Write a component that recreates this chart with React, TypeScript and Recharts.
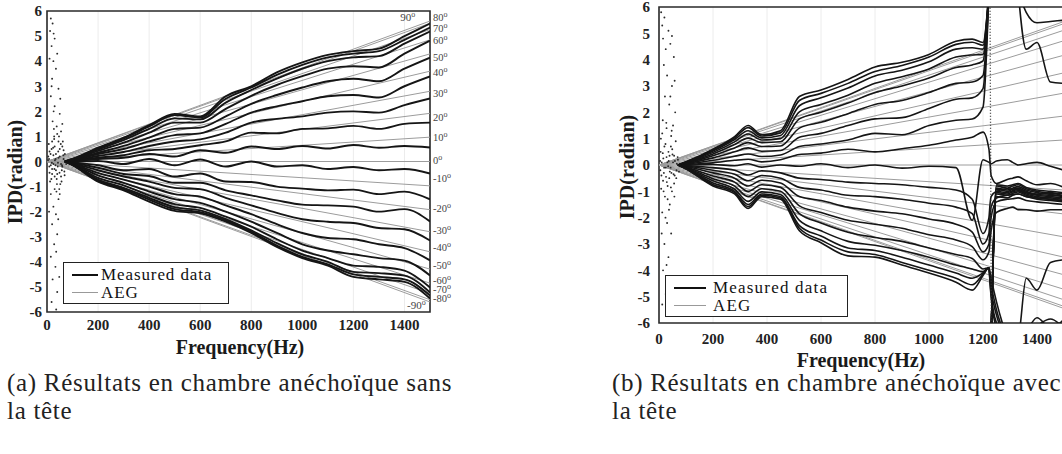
import React from 'react';
import {
  ComposedChart,
  Line,
  Scatter,
  XAxis,
  YAxis,
  ReferenceArea,
  ReferenceDot,
  CartesianGrid,
} from 'recharts';

const SERIF = '"Liberation Serif", "Times New Roman", serif';

const ANGLES = [90, 80, 70, 60, 50, 40, 30, 20, 10, 0, -10, -20, -30, -40, -50, -60, -70, -80, -90];
const X_TICKS = [0, 200, 400, 600, 800, 1000, 1200, 1400];
const Y_TICKS = [-6, -5, -4, -3, -2, -1, 0, 1, 2, 3, 4, 5, 6];

// (a) anechoic room, no head
const FREQ_A = [70, 100, 200, 300, 400, 500, 600, 700, 800, 900, 1000, 1100, 1200, 1300, 1400, 1500];
const MEASURED_A = [
  [0, 0.1, 0.55, 0.95, 1.45, 1.9, 1.8, 2.6, 3.0, 3.55, 3.95, 4.25, 4.4, 4.5, 5.0, 5.5],
  [0, 0.1, 0.52, 0.92, 1.4, 1.85, 1.76, 2.5, 2.95, 3.45, 3.85, 4.15, 4.3, 4.4, 4.85, 5.34],
  [0, 0.08, 0.48, 0.85, 1.3, 1.72, 1.68, 2.35, 2.85, 3.3, 3.7, 4.0, 4.15, 4.2, 4.7, 5.18],
  [0, 0.07, 0.42, 0.75, 1.15, 1.55, 1.55, 2.1, 2.62, 3.05, 3.4, 3.7, 3.8, 3.75, 4.3, 4.82],
  [0, 0.05, 0.35, 0.62, 0.95, 1.3, 1.35, 1.8, 2.3, 2.65, 2.95, 3.2, 3.3, 3.2, 3.7, 4.14],
  [0, 0.04, 0.3, 0.5, 0.8, 1.05, 1.12, 1.5, 1.95, 2.2, 2.4, 2.6, 2.65, 2.55, 3.0, 3.39],
  [0, 0.03, 0.22, 0.38, 0.62, 0.8, 0.88, 1.15, 1.55, 1.7, 1.8, 1.95, 2.0, 1.95, 2.25, 2.51],
  [0, 0.02, 0.15, 0.25, 0.45, 0.5, 0.65, 0.8, 1.15, 1.12, 1.3, 1.32, 1.42, 1.3, 1.5, 1.55],
  [0, 0.01, 0.1, 0.15, 0.3, 0.2, 0.45, 0.35, 0.6, 0.5, 0.62, 0.52, 0.66, 0.55, 0.62, 0.56],
  [0, 0, 0.02, -0.1, 0.1, -0.15, 0.08, -0.2, 0.0, -0.2, -0.15, -0.3, -0.22, -0.35, -0.3, -0.48],
  [0, -0.03, -0.15, -0.35, -0.3, -0.6, -0.48, -0.8, -0.82, -1.0, -1.08, -1.15, -1.12, -1.3, -1.2, -1.51],
  [0, -0.05, -0.25, -0.5, -0.58, -0.85, -0.85, -1.15, -1.35, -1.55, -1.72, -1.75, -1.8, -2.0, -1.9, -2.39],
  [0, -0.07, -0.35, -0.6, -0.8, -1.05, -1.1, -1.45, -1.75, -2.05, -2.3, -2.4, -2.45, -2.65, -2.7, -3.15],
  [0, -0.09, -0.45, -0.72, -1.0, -1.3, -1.4, -1.75, -2.1, -2.5, -2.85, -3.05, -3.1, -3.3, -3.45, -3.94],
  [0, -0.1, -0.55, -0.85, -1.2, -1.5, -1.65, -2.0, -2.4, -2.85, -3.3, -3.55, -3.7, -3.85, -3.95, -4.54],
  [0, -0.12, -0.65, -0.95, -1.35, -1.7, -1.85, -2.2, -2.6, -3.1, -3.55, -3.85, -4.15, -4.2, -4.35, -5.02],
  [0, -0.13, -0.72, -1.05, -1.45, -1.82, -1.95, -2.3, -2.75, -3.25, -3.7, -4.0, -4.4, -4.45, -4.55, -5.22],
  [0, -0.14, -0.77, -1.1, -1.52, -1.9, -2.02, -2.35, -2.8, -3.35, -3.8, -4.1, -4.5, -4.6, -4.7, -5.34],
  [0, -0.15, -0.8, -1.15, -1.6, -1.97, -2.07, -2.4, -2.85, -3.4, -3.85, -4.15, -4.6, -4.7, -4.8, -5.46],
];
// AEG model value at 1500 Hz, one per angle
const AEG_A = [5.6, 5.51, 5.26, 4.85, 4.29, 3.6, 2.8, 1.92, 0.97, 0, -0.97, -1.92, -2.8, -3.6, -4.29, -4.85, -5.26, -5.51, -5.6];
const NOISE_A = [
  [15, 5.7], [22, 5.5], [12, 5.2], [30, 4.9], [18, 4.6], [40, 4.3], [25, 4.0], [35, 3.7], [20, 3.3],
  [45, 2.9], [15, 2.6], [30, 2.2], [50, 1.9], [22, 1.6], [38, 1.4], [55, 1.2], [28, 1.0], [45, 0.8],
  [60, 0.6], [18, 0.5], [35, 0.3], [50, 0.2], [65, 0.1], [25, -0.1], [42, -0.2], [58, -0.35], [20, -0.5],
  [38, -0.7], [52, -0.9], [30, -1.1], [15, -1.3], [45, -1.5], [25, -1.8], [35, -2.1], [20, -2.5],
  [40, -2.9], [28, -3.3], [15, -3.8], [33, -4.2], [22, -4.7], [40, -5.2], [18, -5.6], [10, 0.4],
  [20, -0.3], [30, 0.6], [40, -0.5], [50, 0.5], [60, -0.2], [70, 0.3], [12, -0.8], [28, 0.9],
  [48, -1.1], [62, 0.8], [8, 0.1], [55, -0.6], [33, -0.15], [68, -0.4], [5, 0.2], [15, -0.15],
  [25, 0.25], [35, -0.35], [45, 0.15], [55, -0.1], [65, 0.45], [75, -0.1], [10, -0.45], [20, 0.8],
  [30, -0.6], [40, 1.1], [50, -1.3], [60, 1.5], [8, -2.0], [26, 2.0], [44, -2.3], [52, 2.5],
  [18, 3.0], [36, -3.6], [10, 4.1], [48, -4.6], [26, 5.1], [36, -5.9], [4, 0.05], [9, -0.2],
  [14, 0.3], [19, -0.05], [24, 0.55], [29, -0.3], [34, 0.1], [39, -0.9], [44, 0.4], [49, -0.45],
  [54, 0.7], [59, -0.15], [64, 0.25], [69, -0.55], [7, 0.7], [17, -0.7], [27, 1.3], [37, -1.2],
  [47, 1.0], [57, -0.8], [31, 0.05], [43, -0.05],
];
const LABEL_AT_A = [5.74, 5.3, 4.82, 4.14, 3.55, 2.71, 1.75, 0.96, 0.04, -0.68, -1.87, -2.75, -3.43, -4.14, -4.74, -5.12, -5.48];
const LABEL_TEXT_A = ['80', '70', '60', '50', '40', '30', '20', '10', '0', '-10', '-20', '-30', '-40', '-50', '-60', '-70', '-80'];

// (b) anechoic room, with head
const FREQ_B = [70, 100, 200, 280, 330, 380, 450, 520, 600, 700, 800, 900, 1000, 1100, 1160, 1200, 1222, 1226, 1230, 1250, 1290, 1310, 1330, 1360, 1400, 1450, 1500];
const MEASURED_B = [
  [0, 0.12, 0.6, 1.08, 1.5, 1.15, 1.3, 2.6, 2.85, 3.25, 3.72, 3.9, 4.2, 4.7, 4.78, 4.65, 6.6, null, -6.6, -0.75, -0.8, -0.75, -0.7, -0.85, -0.95, -1.0, -1.05],
  [0, 0.11, 0.57, 1.03, 1.42, 1.1, 1.22, 2.45, 2.72, 3.1, 3.55, 3.78, 4.1, 4.58, 4.66, 4.55, 6.6, null, -6.6, -0.8, -0.88, -0.8, -0.75, -0.9, -1.0, -1.08, -1.1],
  [0, 0.1, 0.53, 0.97, 1.3, 1.03, 1.12, 2.25, 2.55, 2.92, 3.38, 3.6, 3.92, 4.4, 4.45, 4.4, 6.6, null, -6.6, -0.88, -0.95, -0.88, -0.82, -0.95, -1.05, -1.12, -1.18],
  [0, 0.09, 0.48, 0.88, 1.18, 0.95, 1.0, 2.02, 2.3, 2.65, 3.1, 3.35, 3.65, 4.1, 4.18, 4.2, 6.6, null, -6.6, -0.92, -1.0, -0.92, -0.88, -1.0, -1.12, -1.15, -1.2],
  [0, 0.08, 0.42, 0.78, 1.02, 0.85, 0.88, 1.75, 2.0, 2.35, 2.75, 3.0, 3.3, 3.7, 3.8, 3.95, 6.6, null, -6.6, -1.0, -1.05, -0.98, -0.92, -1.05, -1.15, -1.2, -1.25],
  [0, 0.07, 0.35, 0.65, 0.85, 0.7, 0.72, 1.4, 1.62, 1.95, 2.3, 2.45, 2.75, 3.1, 3.15, 3.4, 6.6, null, -6.6, -1.05, -1.1, -1.02, -0.98, -1.1, -1.2, -1.25, -1.3],
  [0, 0.05, 0.27, 0.5, 0.65, 0.52, 0.55, 1.05, 1.2, 1.5, 1.75, 1.8, 2.15, 2.5, 2.55, 2.9, 6.6, null, -6.6, -1.1, -1.15, -1.08, -1.02, -1.15, -1.25, -1.3, -1.35],
  [0, 0.03, 0.18, 0.33, 0.42, 0.32, 0.38, 0.7, 0.8, 0.95, 1.2, 1.15, 1.5, 1.7, 1.75, 2.2, 6.6, null, -6.6, -1.2, -1.25, -1.15, -1.1, -1.2, -1.3, -1.35, -1.4],
  [0, 0.02, 0.08, 0.18, 0.22, 0.12, 0.2, 0.4, 0.45, 0.6, 0.5, 0.62, 0.75, 0.95, 1.05, 1.25, 0.6, 0.1, -0.4, -0.7, -0.55, -0.5, -0.45, -0.6, -0.75, -0.7, -0.85],
  [0, 0, 0.02, -0.03, 0.05, -0.08, 0, -0.05, 0.05, -0.1, 0, -0.12, -0.05, -0.1, -2.1, 0.2, 0.1, 0.08, 0.05, 0.15, 0.2, 0.1, 0, 0.05, 0.1, -0.05, -0.2],
  [0, -0.02, -0.1, -0.2, -0.38, -0.22, -0.3, -0.5, -0.55, -0.65, -0.7, -0.75, -0.85, -0.95, -1.3, -2.6, -2.0, -1.5, -1.2, -1.0, -0.9, -0.92, -0.95, -1.05, -1.1, -1.05, -1.2],
  [0, -0.04, -0.2, -0.35, -0.6, -0.4, -0.5, -0.85, -0.95, -1.15, -1.2, -1.3, -1.45, -1.6, -1.85, -3.0, -2.6, -2.0, -1.6, -1.25, -1.15, -1.12, -1.1, -1.2, -1.25, -1.3, -1.35],
  [0, -0.06, -0.3, -0.5, -0.8, -0.58, -0.68, -1.2, -1.35, -1.6, -1.75, -1.85, -2.05, -2.25, -2.55, -3.3, -3.0, -2.5, -2.0, -1.4, -1.3, -1.28, -1.25, -1.35, -1.4, -1.45, -1.5],
  [0, -0.08, -0.42, -0.65, -1.0, -0.75, -0.85, -1.55, -1.8, -2.1, -2.25, -2.4, -2.65, -2.85, -3.1, -3.6, -3.3, -2.9, -2.5, -1.8, -1.65, -1.6, -1.7, -1.7, -1.75, -1.7, -1.7],
  [0, -0.1, -0.52, -0.8, -1.2, -0.9, -1.0, -1.85, -2.2, -2.55, -2.75, -2.9, -3.15, -3.4, -3.55, -3.95, -3.9, -4.1, -4.3, -5.2, -6.6, null, 6.6, 5.8, 5.4, 5.45, 5.5],
  [0, -0.12, -0.6, -0.92, -1.38, -1.02, -1.12, -2.1, -2.5, -2.9, -3.05, -3.25, -3.5, -3.8, -3.95, -4.05, -3.9, -4.2, -4.5, -5.5, -6.6, null, 6.6, 4.4, 4.65, 3.15, 3.1],
  [0, -0.13, -0.68, -1.0, -1.5, -1.1, -1.2, -2.3, -2.7, -3.15, -3.25, -3.5, -3.8, -4.1, -4.3, -4.1, -3.9, -4.3, -4.7, -5.7, -6.6, -6.8, -6.6, -4.3, -4.75, -3.7, -3.6],
  [0, -0.14, -0.75, -1.05, -1.58, -1.15, -1.25, -2.4, -2.85, -3.3, -3.4, -3.7, -4.0, -4.3, -4.55, -4.15, -3.9, -4.4, -4.9, -6.0, -6.6, -6.7, -6.5, -6.3, -5.8, -6.2, -5.85],
  [0, -0.15, -0.8, -1.1, -1.65, -1.2, -1.3, -2.5, -2.95, -3.45, -3.5, -3.8, -4.1, -4.45, -4.75, -4.2, -3.9, -4.5, -5.0, -6.2, -6.8, -6.8, -6.6, -6.4, -6.1, -5.85, -6.2],
];
const AEG_B = [5.45, 5.37, 5.12, 4.72, 4.17, 3.5, 2.73, 1.86, 0.95, 0, -0.95, -1.86, -2.73, -3.5, -4.17, -4.72, -5.12, -5.37, -5.45];
const NOISE_B = [
  [8, 5.8], [20, 5.6], [12, 5.3], [35, 5.1], [15, 4.8], [42, 4.6], [25, 4.4], [55, 4.1], [18, 3.8],
  [30, 3.4], [48, 3.0], [22, 2.6], [38, 2.3], [60, 2.0], [14, 1.7], [28, 1.4], [45, 1.1], [62, 0.9],
  [20, 0.7], [35, 0.5], [50, 0.4], [70, 0.2], [10, 0.1], [25, -0.1], [40, -0.25], [58, -0.4], [15, -0.6],
  [32, -0.8], [48, -1.0], [22, -1.2], [40, -1.5], [12, -1.8], [30, -2.2], [45, -2.6], [20, -3.0],
  [35, -3.5], [15, -4.0], [40, -4.4], [25, -4.9], [12, -5.3], [30, -5.7], [6, 0.5], [18, -0.3],
  [28, 0.3], [38, -0.5], [52, 0.1], [65, -0.2], [44, 0.7], [8, -0.9], [56, -0.7], [5, -0.2],
  [16, 0.25], [26, -0.45], [36, 0.15], [46, -0.3], [56, 0.35], [66, 0.05], [74, -0.25], [12, 1.2],
  [32, -1.3], [52, 1.5], [24, -2.0], [42, 2.6], [10, -2.6], [58, 3.2], [28, -3.8], [48, 4.9], [36, -5.2],
  [4, 0.15], [9, -0.4], [14, 0.45], [19, -0.1], [24, 0.8], [29, -0.65], [34, -0.05], [39, 0.35],
  [44, -0.85], [49, 0.6], [54, -0.35], [59, 0.15], [64, -0.5], [69, 0.3], [7, 1.0], [17, -1.0],
  [27, 1.6], [37, -1.7], [47, 1.3], [57, -1.2], [31, 0.1], [43, -0.1],
];
// phase-wrap jump, drawn dotted
const WRAP_B = [[1226, 6.2], [1231, -6.2]];

const toRows = (freq: number[], vals: (number | null)[]) => freq.map((f, i) => ({ f, v: vals[i] }));
const aegRows = (end: number) => [{ f: 0, v: 0 }, { f: 1500, v: end }];
const pairRows = (pts: number[][]) => pts.map(([f, v]) => ({ f, v }));

const tickStyle = { fontFamily: SERIF, fontWeight: 700, fontSize: 15, fill: '#222' };

const NoiseDot = (p: any) => <circle cx={p.cx} cy={p.cy} r={0.95} fill="#2a2a2a" />;

function AngleTick(props: any) {
  const { x, y, payload } = props;
  const i = LABEL_AT_A.indexOf(payload.value);
  return (
    <text x={x} y={y} dy={3.5} fontFamily={SERIF} fontSize={10.5} fill="#444" stroke="none">
      {LABEL_TEXT_A[i]}
      <tspan dy={-4} fontSize={8}>o</tspan>
    </text>
  );
}

function cornerLabel(text: string) {
  return (p: any) => (
    <text x={p.cx} y={p.cy} dy={3.5} fontFamily={SERIF} fontSize={11} fill="#444" stroke="none">
      {text}
      <tspan dy={-4} fontSize={8}>o</tspan>
    </text>
  );
}

function seriesFor(key: string, freq: number[], measured: (number | null)[][], aeg: number[], width: number) {
  const gray = aeg.map((end, i) => (
    <Line
      key={`${key}-aeg-${ANGLES[i]}`}
      data={aegRows(end)}
      dataKey="v"
      type="linear"
      stroke="#9c9c9c"
      strokeWidth={1}
      dot={false}
      activeDot={false}
      isAnimationActive={false}
    />
  ));
  const black = measured.map((row, i) => (
    <Line
      key={`${key}-m-${ANGLES[i]}`}
      data={toRows(freq, row)}
      dataKey="v"
      type="monotone"
      stroke="#151515"
      strokeWidth={width}
      dot={false}
      activeDot={false}
      connectNulls={false}
      isAnimationActive={false}
    />
  ));
  return [...gray, ...black];
}

function Legend({ left, top, width, height, pitch, sample, textLeft, fontSize, spacing }: any) {
  const row = (label: string, color: string, thick: number, y: number) => (
    <div style={{ position: 'absolute', left: 0, top: y, width: '100%', height: pitch }}>
      <div style={{ position: 'absolute', left: 8, width: sample, top: pitch / 2 - thick / 2, borderTop: `${thick}px solid ${color}` }} />
      <div style={{ position: 'absolute', left: textLeft, top: 0, lineHeight: `${pitch}px`, fontSize, letterSpacing: spacing, fontFamily: SERIF, color: '#111', whiteSpace: 'nowrap' }}>
        {label}
      </div>
    </div>
  );
  return (
    <div style={{ position: 'absolute', left, top, width, height, border: '1.6px solid #222', background: '#fff', boxSizing: 'border-box' }}>
      {row('Measured data', '#111', 2.5, 3)}
      {row('AEG', '#999', 1.2, 3 + pitch)}
    </div>
  );
}

const titleStyle: React.CSSProperties = {
  position: 'absolute',
  fontFamily: SERIF,
  fontWeight: 700,
  fontSize: 20,
  color: '#1a1a1a',
  whiteSpace: 'nowrap',
  transform: 'translate(-50%, -50%)',
};

const captionStyle: React.CSSProperties = {
  position: 'absolute',
  top: 369,
  fontFamily: SERIF,
  fontSize: 25,
  letterSpacing: 0.7,
  lineHeight: '28px',
  color: '#222',
  whiteSpace: 'nowrap',
};

export default function App() {
  return (
    <div style={{ position: 'absolute', left: 0, top: 0, width: 1062, height: 454, overflow: 'hidden', background: '#fff' }}>
      {/* panel (a) */}
      <div style={{ position: 'absolute', left: 0, top: 0 }}>
        <ComposedChart width={480} height={360} margin={{ top: 11, right: 15, bottom: 3, left: 7 }}>
          <CartesianGrid horizontal={false} stroke="#ececec" />
          <XAxis
            dataKey="f"
            type="number"
            domain={[0, 1500]}
            ticks={X_TICKS}
            interval={0}
            allowDataOverflow
            axisLine={false}
            tickLine={false}
            tickSize={4}
            tickMargin={3}
            height={45}
            tick={tickStyle}
          />
          <YAxis
            dataKey="v"
            type="number"
            domain={[-6, 6]}
            ticks={Y_TICKS}
            interval={0}
            allowDataOverflow
            axisLine={false}
            tickLine={false}
            tickSize={3}
            tickMargin={2}
            width={40}
            tick={tickStyle}
          />
          <YAxis
            yAxisId="ang"
            orientation="right"
            type="number"
            domain={[-6, 6]}
            ticks={LABEL_AT_A}
            interval={0}
            allowDataOverflow
            axisLine={false}
            tickLine={false}
            tickSize={0}
            tickMargin={3}
            width={35}
            tick={<AngleTick />}
          />
          <Scatter data={pairRows(NOISE_A)} shape={NoiseDot} isAnimationActive={false} />
          {seriesFor('a', FREQ_A, MEASURED_A, AEG_A, 1.9)}
          <ReferenceDot x={1383} y={5.74} r={0} shape={cornerLabel('90')} ifOverflow="visible" />
          <ReferenceDot x={1410} y={-5.74} r={0} shape={cornerLabel('-90')} ifOverflow="visible" />
          <ReferenceArea x1={0} x2={1500} y1={-6} y2={6} fill="none" stroke="#2a2a2a" strokeWidth={1.6} ifOverflow="visible" />
        </ComposedChart>
      </div>

      {/* panel (b) */}
      <div style={{ position: 'absolute', left: 600, top: 0 }}>
        <ComposedChart width={470} height={380} margin={{ top: 7, right: 6, bottom: 12, left: 14 }}>
          <CartesianGrid horizontal={false} stroke="#ececec" />
          <XAxis
            dataKey="f"
            type="number"
            domain={[0, 1500]}
            ticks={X_TICKS}
            interval={0}
            allowDataOverflow
            axisLine={false}
            tickLine={false}
            tickSize={4}
            tickMargin={6}
            height={45}
            tick={tickStyle}
          />
          <YAxis
            dataKey="v"
            type="number"
            domain={[-6, 6]}
            ticks={Y_TICKS}
            interval={0}
            allowDataOverflow
            axisLine={false}
            tickLine={false}
            tickSize={4}
            tickMargin={5}
            width={45}
            tick={tickStyle}
          />
          <Scatter data={pairRows(NOISE_B)} shape={NoiseDot} isAnimationActive={false} />
          {seriesFor('b', FREQ_B, MEASURED_B, AEG_B, 1.6)}
          <Line
            data={pairRows(WRAP_B)}
            dataKey="v"
            type="linear"
            stroke="#333"
            strokeWidth={1.3}
            strokeDasharray="1 2"
            dot={false}
            activeDot={false}
            isAnimationActive={false}
          />
          <ReferenceArea x1={0} x2={1500} y1={-6} y2={6} fill="none" stroke="#2a2a2a" strokeWidth={1.6} ifOverflow="visible" />
        </ComposedChart>
      </div>

      <Legend left={63} top={262} width={166} height={42} pitch={17.5} sample={26} textLeft={37} fontSize={17} spacing={0.9} />
      <Legend left={665} top={275} width={183} height={42} pitch={17.5} sample={32} textLeft={47} fontSize={17} spacing={1.2} />

      <div style={{ ...titleStyle, left: 240, top: 347 }}>Frequency(Hz)</div>
      <div style={{ ...titleStyle, left: 861, top: 360 }}>Frequency(Hz)</div>
      <div style={{ ...titleStyle, left: 15, top: 172, transform: 'translate(-50%, -50%) rotate(-90deg)' }}>IPD(radian)</div>
      <div style={{ ...titleStyle, left: 627, top: 167, transform: 'translate(-50%, -50%) rotate(-90deg)' }}>IPD(radian)</div>

      <div style={{ ...captionStyle, left: 7 }}>
        (a) Résultats en chambre anéchoïque sans
        <br />
        la tête
      </div>
      <div style={{ ...captionStyle, left: 612 }}>
        (b) Résultats en chambre anéchoïque avec
        <br />
        la tête
      </div>
    </div>
  );
}
